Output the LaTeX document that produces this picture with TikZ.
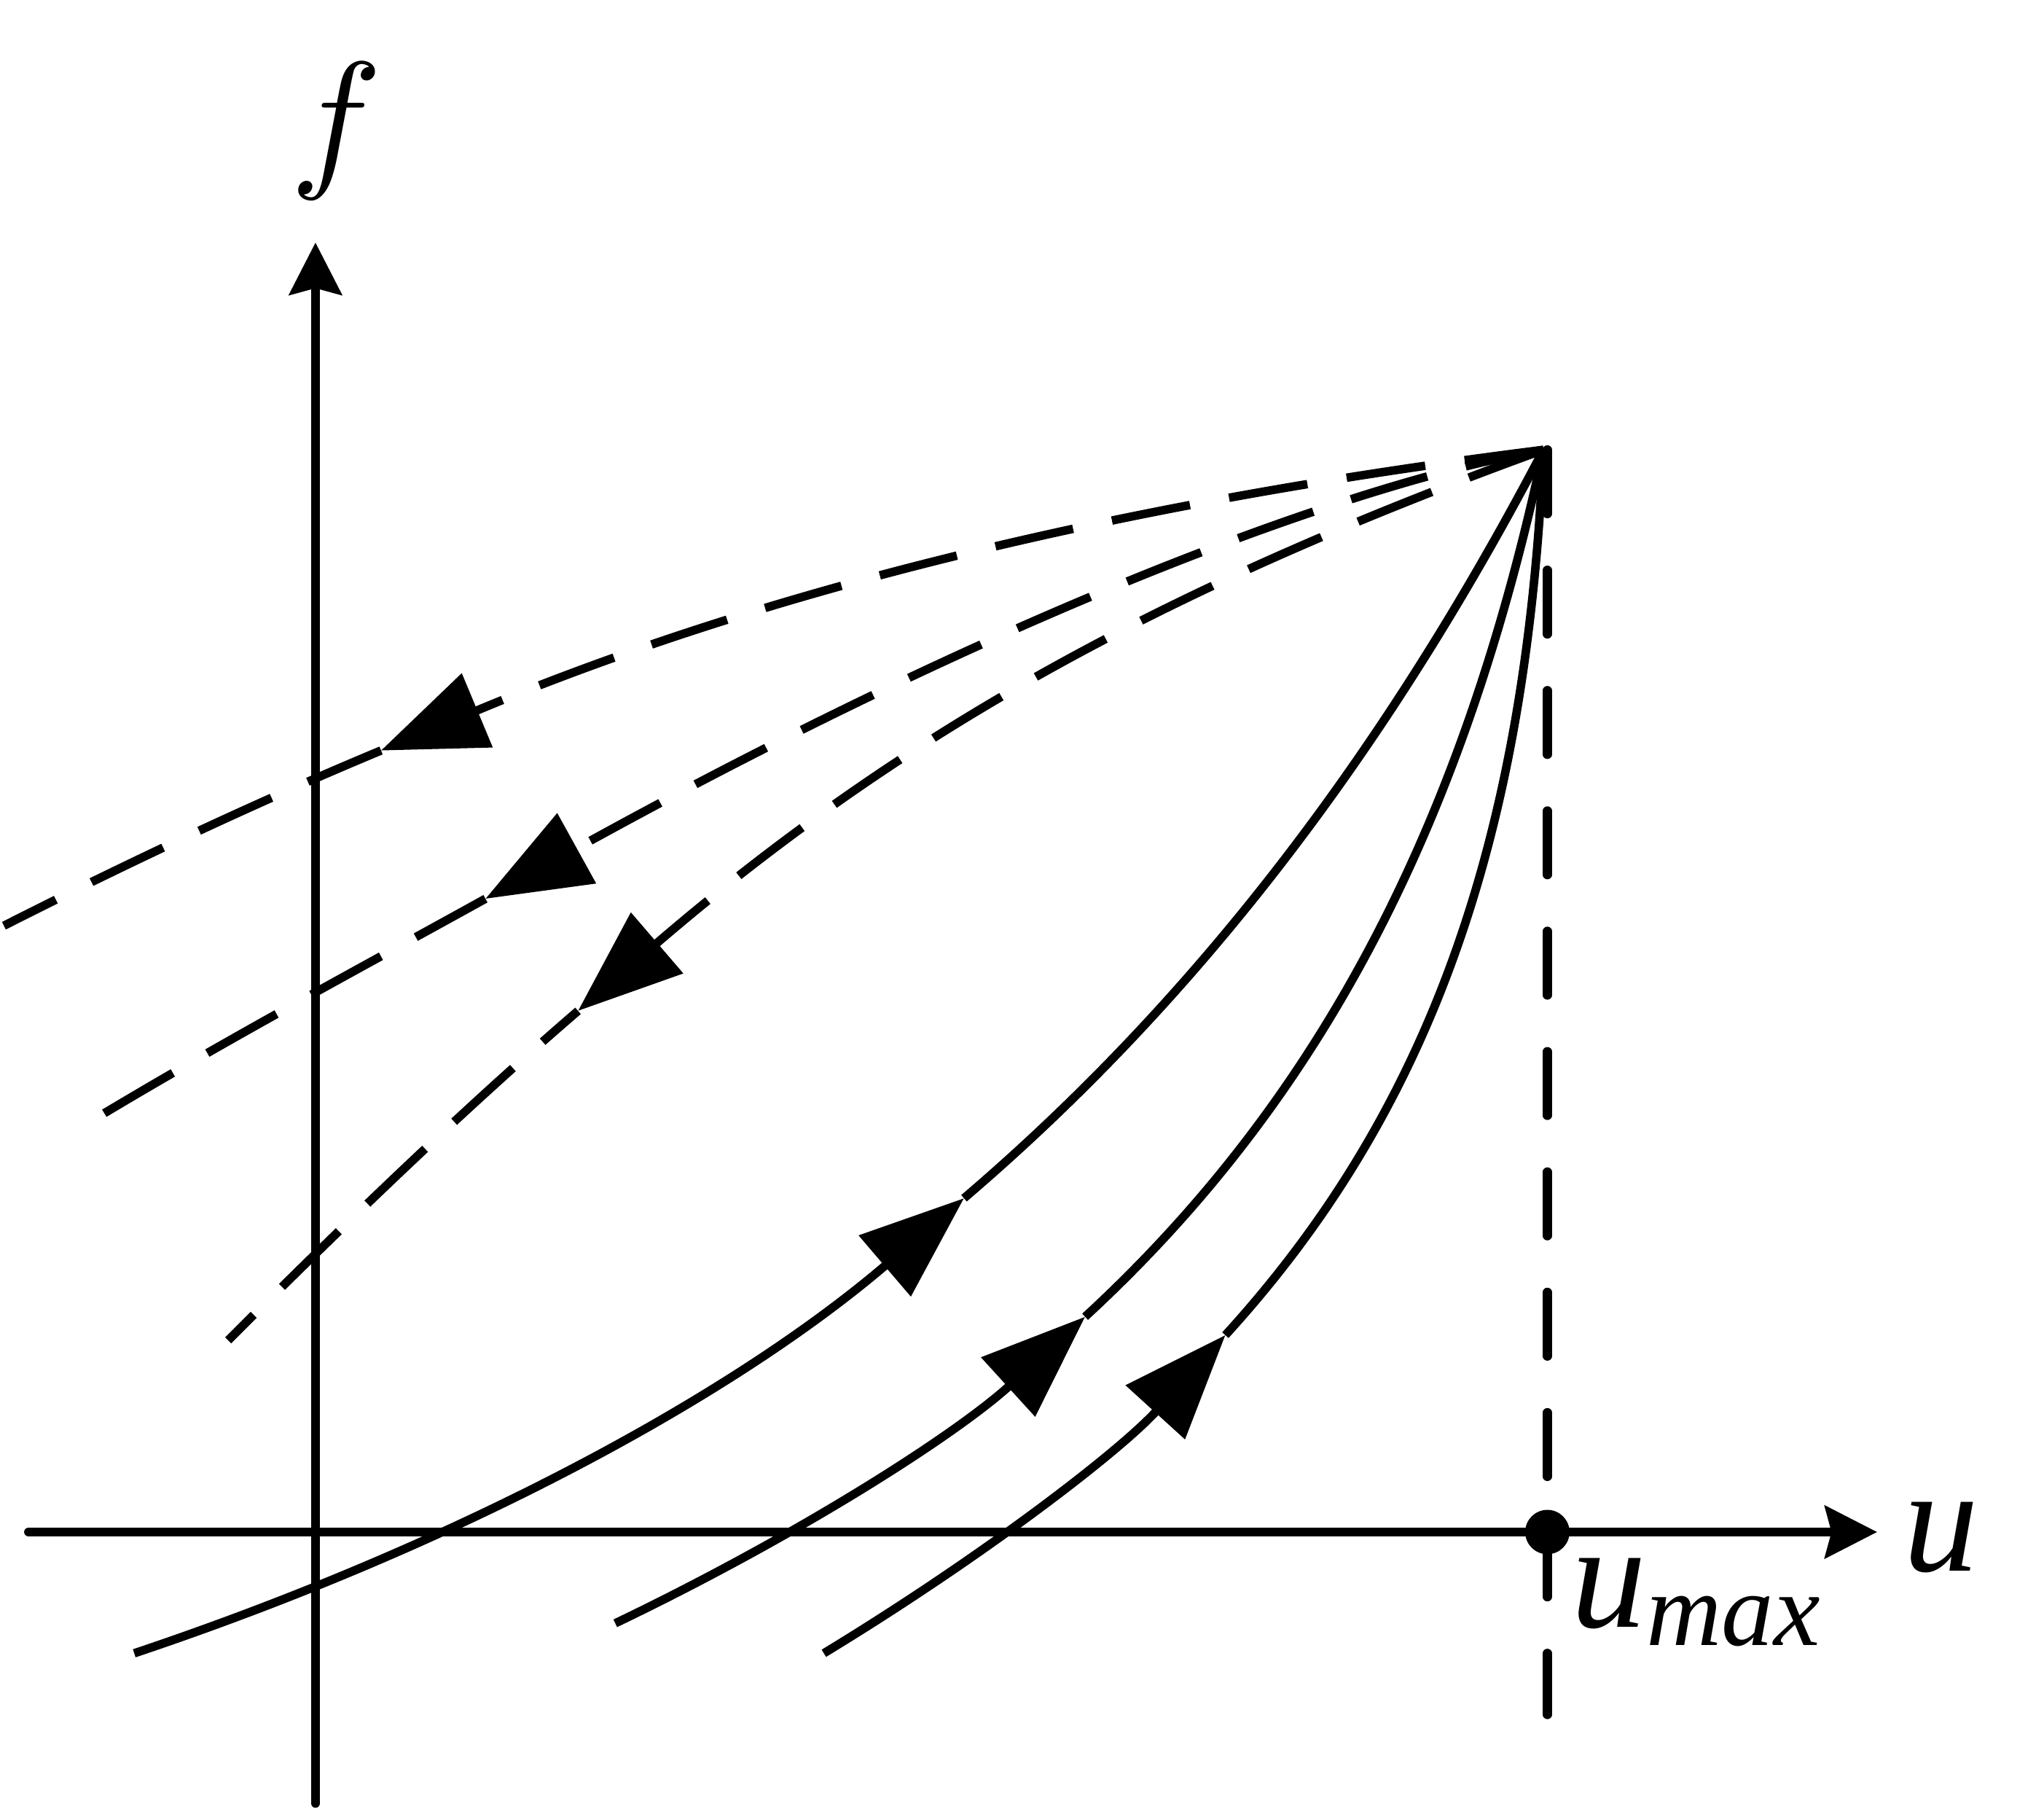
\documentclass[tikz,border=0pt]{standalone}
\usepackage{fontspec}
\usepackage{graphicx}
\setmainfont{Liberation Serif}
\usetikzlibrary{arrows.meta}
\begin{document}
\begin{tikzpicture}[x=1pt,y=-1pt,
  axis/.style={line width=7pt, line cap=round, -{Stealth[length=40pt,width=40pt,inset=5pt]}},
  curve/.style={line width=6.5pt},
  dcurve/.style={line width=6.5pt, dash pattern=on 61pt off 30.5pt},
  vdash/.style={line width=7pt, line cap=round, dash pattern=on 49pt off 43.3pt},
  tri/.style={-{Triangle[length=80pt,width=60pt]}},
  lbl/.style={inner sep=0pt, font=\fontsize{115}{115}\selectfont\itshape},
  sub/.style={inner sep=0pt, font=\fontsize{80}{80}\selectfont\itshape}
]
\useasboundingbox (0,0) rectangle (1568,1387);
% key points
\coordinate (A) at (1184,345);
\coordinate (V0) at (1187,345);
\coordinate (V1) at (1187,1315);
\coordinate (fB) at (242,1383);
\coordinate (fT) at (242,186);
\coordinate (uL) at (22,1175);
\coordinate (uR) at (1440,1175);
\node[circle, fill=black, inner sep=0pt, minimum size=34pt] (umax) at (1187,1175) {};
% axes
\draw[axis] (fB) -- (fT);
\draw[axis] (uL) -- (uR);
% vertical dashed line
\draw[vdash] (V0) -- (V1);
% solid curves (split at the arrowheads)
\coordinate (S1s) at (103,1268); \coordinate (T1) at (739.5,919);
\coordinate (S2s) at (472,1245); \coordinate (T2) at (832.4,1009.9);
\coordinate (S3s) at (632,1268); \coordinate (T3) at (940,1024);
\draw[curve,tri] (S1s) .. controls (353.5,1184) and (562.5,1070.2) .. (T1);
\draw[curve] (T1) .. controls (916.5,767.9) and (1061.5,579.2) .. (A);
\draw[curve,tri] (S2s) .. controls (615.9,1175.9) and (734.7,1099) .. (T2);
\draw[curve] (T2) .. controls (1013.8,842.7) and (1122.6,631.9) .. (A);
\draw[curve,tri] (S3s) .. controls (757,1192) and (860,1112) .. (T3);
\draw[curve] (T3) .. controls (1096,853) and (1170.6,645) .. (A);
% dashed curves (split at the arrowheads)
\coordinate (D1e) at (3,710); \coordinate (R1) at (292.3,575.6);
\coordinate (D2e) at (78,855); \coordinate (R2) at (372.4,689.3);
\coordinate (D3e) at (175,1028); \coordinate (R3) at (443.4,775.3);
\draw[dcurve,tri] (A) .. controls (850.7,386.7) and (580.6,455.3) .. (R1);
\draw[dcurve] (R1) .. controls (198.7,614.6) and (103.2,659.2) .. (D1e);
\draw[dcurve,tri] (A) .. controls (1040.3,369.4) and (771.9,468.4) .. (R2);
\draw[dcurve] (R2) .. controls (281.2,739.8) and (183,792.2) .. (D2e);
\draw[dcurve,tri] (A) .. controls (899.6,448.4) and (697.5,557) .. (R3);
\draw[dcurve, dash phase=25pt] (R3) .. controls (361,846.2) and (273,930) .. (D3e);
% labels
\node[inner sep=0pt, anchor=base] (flab) at (258,130) {\scalebox{11.8}{$f$}};
\node[lbl, anchor=base west] (ulab) at (1460,1205) {u};
\node[lbl, anchor=base west] (umaxu) at (1205,1248) {u};
\node[sub, anchor=base west] (umaxs) at (umaxu.base east) [yshift=-14pt] {max};
\end{tikzpicture}
\end{document}
